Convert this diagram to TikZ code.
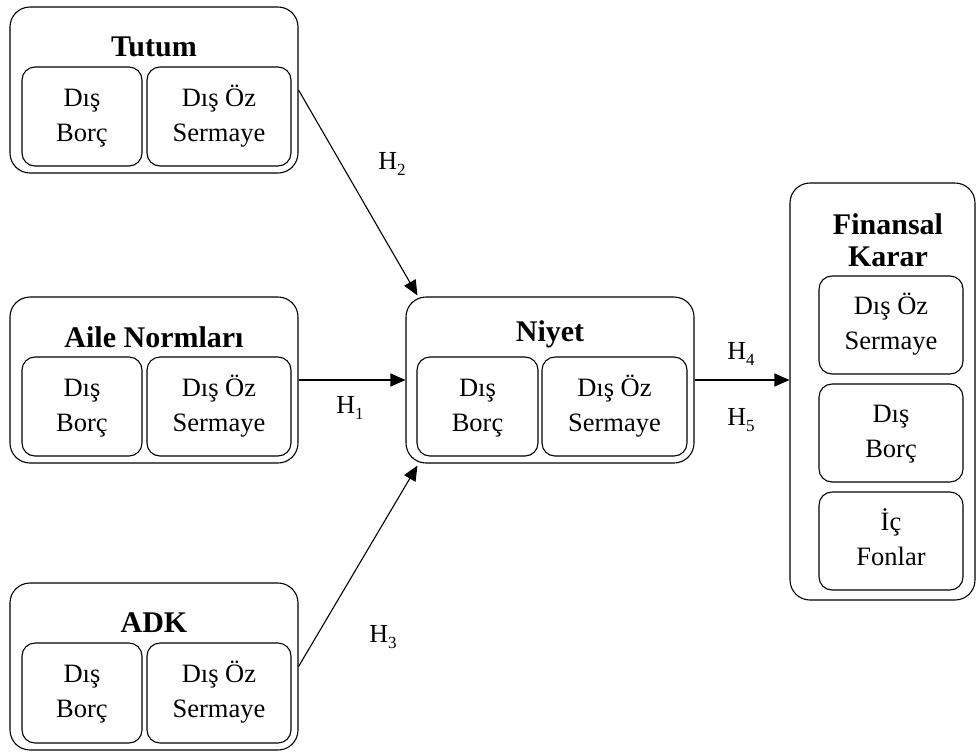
\documentclass[tikz,border=0pt]{standalone}
\usepackage{fontspec}
\setmainfont{Liberation Serif}
\usetikzlibrary{arrows.meta,calc}
\newcommand{\hsub}[1]{H\raisebox{-6pt}{\fontsize{17}{17}\selectfont #1}}
\newcommand{\twoln}[2]{\raisebox{-4pt}{\begin{tabular}{@{}c@{}}#1\\#2\end{tabular}}}
\begin{document}
\begin{tikzpicture}[x=1pt,y=-1pt,
  outer/.style={draw,line width=1.1pt,rounded corners=20pt,inner sep=0pt},
  inner/.style={draw,line width=1.1pt,rounded corners=13pt,inner sep=0pt,align=center,
    font=\fontsize{26.5}{35}\selectfont},
  ttl/.style={font=\fontsize{30}{32}\bfseries\selectfont,align=center,inner sep=0pt},
  hl/.style={font=\fontsize{26}{30}\selectfont,inner sep=0pt},
  arr/.style={line width=1.1pt,-{Triangle[length=15pt,width=13pt]}}]
\useasboundingbox (0,0) rectangle (976,753);
% Tutum
\node[outer,minimum width=288pt,minimum height=166pt] (tutum) at (154,90) {};
\node[ttl] (tutumT) at (154,47) {Tutum};
\node[inner,minimum width=120pt,minimum height=99pt] (tutumA) at (82,116.5) {\twoln{Dış}{Borç}};
\node[inner,minimum width=144pt,minimum height=99pt] (tutumB) at (219,116.5) {\twoln{Dış Öz}{Sermaye}};
% Aile
\node[outer,minimum width=288pt,minimum height=166pt] (aile) at (154,380) {};
\node[ttl] (aileT) at (154,337) {Aile Normları};
\node[inner,minimum width=120pt,minimum height=99pt] (aileA) at (82,406.5) {\twoln{Dış}{Borç}};
\node[inner,minimum width=144pt,minimum height=99pt] (aileB) at (219,406.5) {\twoln{Dış Öz}{Sermaye}};
% ADK
\node[outer,minimum width=288pt,minimum height=167pt] (adk) at (154,666.5) {};
\node[ttl] (adkT) at (154,623) {ADK};
\node[inner,minimum width=120pt,minimum height=100pt] (adkA) at (82,693) {\twoln{Dış}{Borç}};
\node[inner,minimum width=144pt,minimum height=100pt] (adkB) at (219,693) {\twoln{Dış Öz}{Sermaye}};
% Niyet
\node[outer,minimum width=288pt,minimum height=166pt] (niyet) at (550,380) {};
\node[ttl] (niyetT) at (550,334) {Niyet};
\node[inner,minimum width=121pt,minimum height=99pt] (niyetA) at (477.5,406.5) {\twoln{Dış}{Borç}};
\node[inner,minimum width=145pt,minimum height=99pt] (niyetB) at (614.5,406.5) {\twoln{Dış Öz}{Sermaye}};
% Finansal Karar
\node[outer,minimum width=185pt,minimum height=417pt] (fin) at (882.5,391.5) {};
\node[ttl] (finT) at (888,240) {Finansal\\Karar};
\node[inner,minimum width=144pt,minimum height=98pt] (finA) at (891,325) {\twoln{Dış Öz}{Sermaye}};
\node[inner,minimum width=144pt,minimum height=98pt] (finB) at (891,433) {\twoln{Dış}{Borç}};
\node[inner,minimum width=144pt,minimum height=98pt] (finC) at (891,541) {\twoln{İç}{Fonlar}};
% connectors
\draw[arr] (aile.east) -- (niyet.west);
\draw[arr] (tutum.east) -- ($(niyet.north west)+(12,-1)$);
\draw[arr] (adk.east) -- ($(niyet.south west)+(12,2)$);
\draw[arr] (niyet.east) -- (fin.west |- niyet.east);
% labels
\node[hl] (h1) at (350,408) {\hsub{1}};
\node[hl] (h2) at (392,164) {\hsub{2}};
\node[hl] (h3) at (383,637) {\hsub{3}};
\node[hl] (h4) at (741,354) {\hsub{4}};
\node[hl] (h5) at (741,420) {\hsub{5}};
\end{tikzpicture}
\end{document}
